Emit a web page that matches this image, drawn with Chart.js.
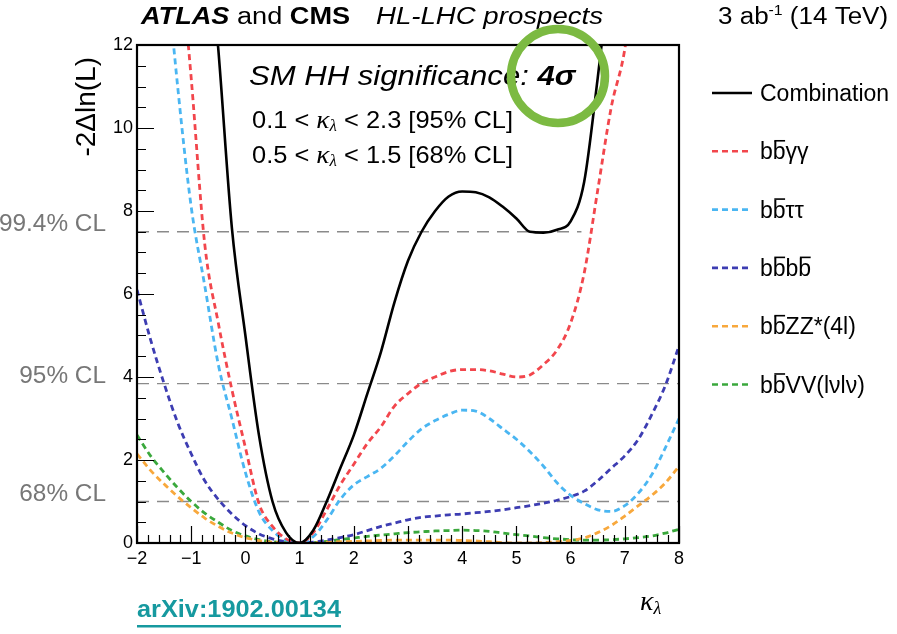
<!DOCTYPE html>
<html>
<head>
<meta charset="utf-8">
<script src="https://cdn.jsdelivr.net/npm/chart.js@4.4.0/dist/chart.umd.min.js"></script>
<style>
html, body { margin: 0; padding: 0; background: #fff; overflow: hidden; }
#wrap { width: 897px; height: 634px; position: relative; }
</style>
</head>
<body>
<div id="wrap"><canvas id="chart"></canvas></div>
<script>
// kappa_lambda scan points
const kappa = [-2, -1.75, -1.5, -1.25, -1, -0.75, -0.5, -0.25, 0, 0.25, 0.5, 0.75, 1,
  1.25, 1.5, 1.75, 2, 2.25, 2.5, 2.75, 3, 3.25, 3.5, 3.75, 4, 4.25, 4.5, 4.75, 5,
  5.25, 5.5, 5.75, 6, 6.25, 6.5, 6.75, 7, 7.25, 7.5, 7.75, 8];

// -2 Delta ln(L) per channel (values > 12 are off scale)
const combination = [36, 31, 26.5, 22.5, 19, 15.5, 11.9, 7.6, 5.0, 2.6, 1.0, 0.25, 0,
  0.3, 1.0, 1.8, 2.6, 3.6, 4.6, 5.8, 6.8, 7.5, 8.0, 8.35, 8.47, 8.45, 8.33, 8.1, 7.82,
  7.5, 7.48, 7.55, 7.75, 8.7, 11.2, 14, 17, 20, 23, 26, 29];
const bbyy = [24, 21, 18, 14.8, 11.2, 7.2, 5.3, 3.7, 2.3, 0.95, 0.4, 0.1, 0,
  0.25, 0.8, 1.4, 1.9, 2.4, 2.8, 3.3, 3.6, 3.85, 4.0, 4.13, 4.18, 4.18, 4.15, 4.07, 4.0,
  4.05, 4.3, 4.65, 5.3, 6.5, 8.5, 10.5, 11.9, 14.5, 17, 20, 23];
const bbtautau = [22, 18.5, 14.5, 11.0, 8.1, 6.2, 4.3, 3.0, 1.7, 0.75, 0.3, 0.07, 0,
  0.15, 0.55, 1.05, 1.4, 1.6, 1.8, 2.1, 2.45, 2.75, 2.95, 3.1, 3.2, 3.18, 3.0, 2.75, 2.5,
  2.2, 1.85, 1.45, 1.15, 0.95, 0.8, 0.76, 0.9, 1.2, 1.65, 2.3, 3.0];
const bbbb = [6.1, 4.9, 3.84, 2.9, 2.15, 1.5, 1.05, 0.7, 0.42, 0.22, 0.1, 0.03, 0,
  0.02, 0.07, 0.13, 0.2, 0.3, 0.4, 0.48, 0.56, 0.62, 0.65, 0.68, 0.7, 0.73, 0.76, 0.8, 0.85,
  0.9, 0.96, 1.03, 1.12, 1.25, 1.5, 1.8, 2.1, 2.5, 3.1, 3.8, 4.75];
const bbzz = [2.15, 1.75, 1.42, 1.12, 0.85, 0.6, 0.4, 0.24, 0.13, 0.06, 0.02, 0.005, 0,
  0.005, 0.02, 0.03, 0.04, 0.05, 0.06, 0.07, 0.07, 0.07, 0.07, 0.07, 0.06, 0.05, 0.03, 0.01, 0,
  0, 0.01, 0.03, 0.06, 0.12, 0.25, 0.42, 0.65, 0.9, 1.15, 1.45, 1.85];
const bbvv = [2.6, 2.1, 1.7, 1.33, 1.0, 0.72, 0.5, 0.3, 0.17, 0.08, 0.03, 0.01, 0,
  0.01, 0.04, 0.08, 0.12, 0.16, 0.19, 0.22, 0.25, 0.27, 0.29, 0.3, 0.31, 0.3, 0.28, 0.24, 0.2,
  0.17, 0.13, 0.1, 0.08, 0.07, 0.07, 0.08, 0.1, 0.13, 0.17, 0.24, 0.33];

// confidence level reference lines
const clNames = ['99.4% CL', '95% CL', '68% CL'];
const clLevels = [7.5, 3.84, 1.0];
const clEnds = [6.2, 8, 8];

const xTicks = [-2, -1, 0, 1, 2, 3, 4, 5, 6, 7, 8];
const yTicks = [0, 2, 4, 6, 8, 10, 12];

const SANS = '"Liberation Sans", Arial, Helvetica, sans-serif';
const SERIF = '"Liberation Serif", "DejaVu Serif", serif';
const OVL = '\u0305'; // combining overline marks the anti-quark

function curve(label, values, color, dashed, width) {
  return {
    label: label,
    data: kappa.map((k, i) => ({ x: k, y: values[i] })),
    borderColor: color,
    borderWidth: width,
    borderDash: dashed ? [6, 4] : [],
    pointRadius: 0,
    cubicInterpolationMode: 'monotone',
    fill: false
  };
}

const datasets = [
  curve('Combination', combination, '#000000', false, 2.6),
  curve('bb' + OVL + 'γγ', bbyy, '#f2464c', true, 2.8),
  curve('bb' + OVL + 'ττ', bbtautau, '#4ab6f2', true, 2.8),
  curve('bb' + OVL + 'bb' + OVL, bbbb, '#3d3db2', true, 2.8),
  curve('bb' + OVL + 'ZZ*(4l)', bbzz, '#f8a83c', true, 2.8),
  curve('bb' + OVL + 'VV(lνlν)', bbvv, '#3aa83c', true, 2.8)
];
clLevels.forEach((lv, i) => {
  datasets.push({
    label: clNames[i],
    isCL: true,
    data: [{ x: -2, y: lv }, { x: clEnds[i], y: lv }],
    borderColor: '#8a8a8a',
    borderWidth: 1.4,
    borderDash: [12, 8],
    pointRadius: 0,
    order: 10
  });
});

// draw a sequence of differently styled text pieces, sx = horizontal stretch
function runs(ctx, x, y, parts, sx) {
  sx = sx || 1;
  parts.forEach(p => {
    ctx.font = p.f;
    ctx.fillStyle = p.c || '#000';
    ctx.save();
    ctx.translate(x, y + (p.dy || 0));
    ctx.scale(sx, 1);
    ctx.fillText(p.t, 0, 0);
    ctx.restore();
    x += ctx.measureText(p.t).width * sx;
  });
  return x;
}

// text with combining overlines drawn by hand
function overlined(ctx, text, x, y, size) {
  const chars = Array.from(text);
  for (let i = 0; i < chars.length; i++) {
    const ch = chars[i];
    if (ch === OVL) continue;
    const w = ctx.measureText(ch).width;
    ctx.fillText(ch, x, y);
    if (chars[i + 1] === OVL) {
      ctx.fillRect(x + 1.5, y - size * 0.84, w - 2, 1.6);
    }
    x += w;
  }
}

const decor = {
  id: 'decor',
  afterDatasetsDraw(chart) {
    const ctx = chart.ctx;
    const a = chart.chartArea;
    const xs = chart.scales.x, ys = chart.scales.y;
    ctx.save();
    ctx.strokeStyle = '#000';
    ctx.lineWidth = 1.2;
    ctx.beginPath();
    for (let i = 0; i <= 50; i++) {
      const v = -2 + i * 0.2;
      const px = Math.round(xs.getPixelForValue(v)) + 0.5;
      const len = i % 5 === 0 ? 17 : 8;
      ctx.moveTo(px, a.bottom);
      ctx.lineTo(px, a.bottom - len);
    }
    for (let i = 0; i <= 24; i++) {
      const py = Math.round(ys.getPixelForValue(i * 0.5)) + 0.5;
      const len = i % 4 === 0 ? 17 : 9;
      ctx.moveTo(a.left, py);
      ctx.lineTo(a.left + len, py);
    }
    ctx.stroke();
    ctx.lineWidth = 2.2;
    ctx.strokeRect(a.left, a.top, a.right - a.left, a.bottom - a.top);
    ctx.restore();
  },
  afterDraw(chart) {
    const ctx = chart.ctx;
    const ys = chart.scales.y;
    ctx.save();
    ctx.textBaseline = 'middle';
    ctx.textAlign = 'left';

    // header
    runs(ctx, 141, 18, [
      { t: 'ATLAS', f: 'italic bold 23px ' + SANS },
      { t: ' and ', f: '23px ' + SANS },
      { t: 'CMS', f: 'bold 23px ' + SANS }
    ], 1.18);
    runs(ctx, 376, 18, [{ t: 'HL-LHC prospects', f: 'italic 23px ' + SANS }], 1.2);
    runs(ctx, 718, 18, [
      { t: '3 ab', f: '23px ' + SANS },
      { t: '-1', f: '14px ' + SANS, dy: -7 },
      { t: ' (14 TeV)', f: '23px ' + SANS }
    ], 1.13);

    // in-plot annotations
    runs(ctx, 249, 77, [
      { t: 'SM HH significance: ', f: 'italic 28px ' + SANS },
      { t: '4σ', f: 'italic bold 28px ' + SANS }
    ], 1.11);
    [['0.1', '2.3', '95% CL', 121], ['0.5', '1.5', '68% CL', 156]].forEach(r => {
      runs(ctx, 252, r[3], [
        { t: r[0] + ' < ', f: '24px ' + SANS },
        { t: 'κ', f: 'italic 26px ' + SERIF },
        { t: 'λ', f: 'italic 16px ' + SERIF, dy: 6 },
        { t: ' < ' + r[1] + ' [' + r[2] + ']', f: '24px ' + SANS }
      ], 1.06);
    });

    // CL labels left of the axis
    ctx.fillStyle = '#777';
    ctx.font = '23px ' + SANS;
    clLevels.forEach((lv, i) => {
      const w = ctx.measureText(clNames[i]).width * 1.06;
      runs(ctx, 106 - w, ys.getPixelForValue(lv) - 7, [
        { t: clNames[i], f: '23px ' + SANS, c: '#777' }
      ], 1.06);
    });

    // y title
    ctx.save();
    ctx.translate(87, 57);
    ctx.rotate(-Math.PI / 2);
    ctx.textAlign = 'right';
    ctx.fillStyle = '#000';
    ctx.font = '28px ' + SANS;
    ctx.fillText('-2Δln(L)', 0, 0);
    ctx.restore();

    // x title
    ctx.textAlign = 'left';
    runs(ctx, 640, 603, [
      { t: 'κ', f: 'italic 28px ' + SERIF },
      { t: 'λ', f: 'italic 18px ' + SERIF, dy: 6 }
    ]);

    // legend
    ctx.textBaseline = 'alphabetic';
    chart.data.datasets.filter(d => !d.isCL).forEach((d, i) => {
      const y = 93 + i * 58.3;
      ctx.strokeStyle = d.borderColor;
      ctx.lineWidth = d.borderDash.length ? 2.6 : 2.4;
      ctx.setLineDash(d.borderDash);
      ctx.beginPath();
      ctx.moveTo(712, y);
      ctx.lineTo(752, y);
      ctx.stroke();
      ctx.setLineDash([]);
      ctx.fillStyle = '#000';
      ctx.font = '23px ' + SANS;
      overlined(ctx, d.label, 760, y + 8, 23);
    });

    // arXiv reference
    ctx.textBaseline = 'middle';
    ctx.font = 'bold 23px ' + SANS;
    const end = runs(ctx, 137, 611, [
      { t: 'arXiv:1902.00134', f: 'bold 23px ' + SANS, c: '#16999f' }
    ], 1.1);
    ctx.fillStyle = '#16999f';
    ctx.fillRect(137, 625, end - 137, 2.5);

    // highlight circle
    ctx.strokeStyle = '#7cba42';
    ctx.lineWidth = 8.5;
    ctx.beginPath();
    ctx.arc(558, 76, 47, 0, Math.PI * 2);
    ctx.stroke();
    ctx.restore();
  }
};

new Chart(document.getElementById('chart'), {
  type: 'line',
  data: { datasets: datasets },
  options: {
    responsive: true,
    maintainAspectRatio: false,
    animation: false,
    layout: { padding: { left: 107, right: 218, top: 45, bottom: 51 } },
    plugins: { legend: { display: false }, tooltip: { enabled: false } },
    scales: {
      x: {
        type: 'linear',
        min: -2,
        max: 8,
        grid: { display: false, drawTicks: false },
        border: { display: false },
        afterFit: s => { s.height = 40; },
        afterBuildTicks: s => { s.ticks = xTicks.map(v => ({ value: v })); },
        ticks: {
          padding: 5,
          color: '#000',
          font: { family: SANS, size: 18 },
          callback: v => (v < 0 ? '\u2212' + Math.abs(v) : String(v))
        }
      },
      y: {
        type: 'linear',
        min: 0,
        max: 12,
        grid: { display: false, drawTicks: false },
        border: { display: false },
        afterFit: s => { s.width = 30; },
        afterBuildTicks: s => { s.ticks = yTicks.map(v => ({ value: v })); },
        ticks: {
          padding: 4,
          color: '#000',
          font: { family: SANS, size: 18 }
        }
      }
    }
  },
  plugins: [decor]
});
</script>
</body>
</html>
